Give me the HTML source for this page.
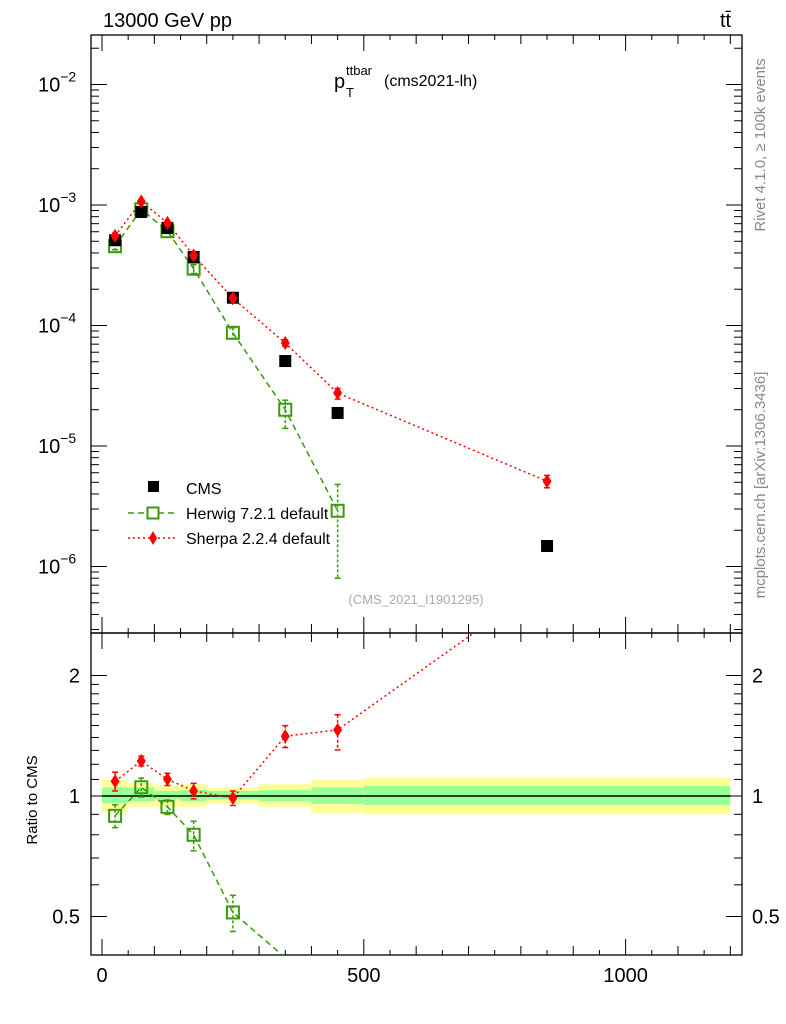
<!DOCTYPE html>
<html><head><meta charset="utf-8"><style>html,body{margin:0;background:#fff;overflow:hidden;width:786px;height:1024px}svg{font-family:"Liberation Sans",sans-serif;display:block}</style></head>
<body>
<svg id="c" width="786" height="1024" xmlns="http://www.w3.org/2000/svg">
<defs>
<clipPath id="cm"><rect x="91" y="35" width="651" height="598"/></clipPath>
<clipPath id="cr"><rect x="91" y="633" width="651" height="322"/></clipPath>
</defs>
<text x="103" y="27" font-size="20">13000 GeV pp</text>
<text x="720" y="27" font-size="20">tt̄</text>
<g>
<text x="334" y="88" font-size="20">p</text>
<text x="346" y="75" font-size="13">ttbar</text>
<text x="346" y="97" font-size="13">T</text>
<text x="384" y="86" font-size="16">(cms2021-lh)</text>
</g>
<text transform="translate(765,145) rotate(-90)" text-anchor="middle" font-size="15" fill="#888">Rivet 4.1.0, ≥ 100k events</text>
<text transform="translate(765,485) rotate(-90)" text-anchor="middle" font-size="15" fill="#888">mcplots.cern.ch [arXiv:1306.3436]</text>
<text x="416" y="604" text-anchor="middle" font-size="13" fill="#aaa">(CMS_2021_I1901295)</text>
<text transform="translate(37,800) rotate(-90)" text-anchor="middle" font-size="15">Ratio to CMS</text>
<g id="bands" clip-path="url(#cr)"></g>
<g id="axes"></g>
<g id="marks"></g>
<g>
<rect x="148" y="481" width="11" height="11" fill="#000"/>
<text x="186" y="494" font-size="16">CMS</text>
<line x1="128" y1="513" x2="178" y2="513" stroke="#3a9a0a" stroke-width="1.5" stroke-dasharray="6,4"/>
<rect x="147.5" y="507.5" width="11" height="11" fill="#fff" stroke="#3a9a0a" stroke-width="2"/>
<text x="186" y="519" font-size="16">Herwig 7.2.1 default</text>
<line x1="128" y1="538" x2="178" y2="538" stroke="#f00" stroke-width="1.5" stroke-dasharray="2,3"/>
<path d="M153,531 L157,538 L153,545 L149,538Z" fill="#f00"/>
<text x="186" y="544" font-size="16">Sherpa 2.2.4 default</text>
</g>
</svg>
<script>
const xs=[25,75,125,175,250,350,450,850];
const binLo=[0,50,100,150,200,300,400,500];
const binHi=[50,100,150,200,300,400,500,1200];
const cmsVals=[5.1e-4,8.75e-4,6.45e-4,3.7e-4,1.7e-4,5.07e-5,1.88e-5,1.48e-6];
const herwigVals=[4.55e-4,9.2e-4,6.06e-4,2.96e-4,8.7e-5,2.0e-5,2.9e-6];
const herwigUp=[4.85e-4,9.7e-4,6.3e-4,3.2e-4,9.6e-5,2.4e-5,4.8e-6];
const herwigDn=[4.25e-4,8.7e-4,5.8e-4,2.7e-4,7.8e-5,1.4e-5,8e-7];
const sherpaVals=[5.55e-4,1.07e-3,7.1e-4,3.81e-4,1.68e-4,7.15e-5,2.75e-5,5.1e-6];
const sherpaUp=[5.85e-4,1.1e-3,7.35e-4,3.98e-4,1.75e-4,7.6e-5,3.0e-5,5.7e-6];
const sherpaDn=[5.25e-4,1.04e-3,6.85e-4,3.64e-4,1.61e-4,6.7e-5,2.45e-5,4.5e-6];
const yellowUp=[1.097,1.08,1.06,1.07,1.05,1.07,1.10,1.11];
const yellowDn=[0.91,0.94,0.94,0.94,0.955,0.94,0.905,0.9];
const greenUp=[1.05,1.05,1.03,1.035,1.03,1.035,1.05,1.06];
const greenDn=[0.96,0.97,0.98,0.97,0.98,0.97,0.955,0.95];

const NS="http://www.w3.org/2000/svg";
const X=v=>102+v*0.5236;
const Y=v=>84.5-(Math.log10(v)+2)*120.5;
const R=v=>796-Math.log2(v)*120.5;
const inR=v=>v>0.405&&v<2.5;
function mk(p,tag,at){const e=document.createElementNS(NS,tag);for(const k in at)e.setAttribute(k,at[k]);p.appendChild(e);return e;}
const bands=document.getElementById('bands'),axes=document.getElementById('axes'),marks=document.getElementById('marks');
for(let i=0;i<binLo.length;i++){
 const y=mk(bands,'rect',{x:X(binLo[i]),y:R(yellowUp[i]),width:X(binHi[i])-X(binLo[i]),height:R(yellowDn[i])-R(yellowUp[i]),fill:'#ffff99'});
 
 
 const g=mk(bands,'rect',{x:X(binLo[i]),y:R(greenUp[i]),width:X(binHi[i])-X(binLo[i]),height:R(greenDn[i])-R(greenUp[i]),fill:'#99ff99'});
 
 
}
const ref=mk(bands,'line',{x1:X(0),x2:X(1200),y1:R(1),y2:R(1),stroke:'#000','stroke-width':1.5});


const f1=mk(axes,'rect',{x:91,y:35,width:651,height:598,fill:'none',stroke:'#000','stroke-width':1.3});


const f2=mk(axes,'rect',{x:91,y:633,width:651,height:322,fill:'none',stroke:'#000','stroke-width':1.3});


for(let d=-7;d<=-2;d++){for(let m=1;m<10;m++){const v=m*Math.pow(10,d);const y=Y(v);if(y<35||y>633)continue;const L=m==1?16:8;
 mk(axes,'line',{x1:91,x2:91+L,y1:y,y2:y,stroke:'#000'});mk(axes,'line',{x1:742-L,x2:742,y1:y,y2:y,stroke:'#000'});
 if(m==1){const t=mk(axes,'text',{x:38,y:y+7,'font-size':20});t.innerHTML='10<tspan font-size="14" dy="-10">\u2212'+(-d)+'</tspan>';
 
 }}}
const rt=[0.5,0.6,0.7,0.8,0.9,1,1.1,1.2,1.3,1.4,1.5,1.6,1.7,1.8,1.9,2];
rt.forEach(v=>{const y=R(v);if(y<633||y>955)return;const maj=(v==0.5||v==1||v==2);const L=maj?16:8;
 mk(axes,'line',{x1:91,x2:91+L,y1:y,y2:y,stroke:'#000'});mk(axes,'line',{x1:742-L,x2:742,y1:y,y2:y,stroke:'#000'});
 if(maj){const a=mk(axes,'text',{x:80,y:y+7,'font-size':20,'text-anchor':'end'});a.textContent=v;
 
 
 const b=mk(axes,'text',{x:752,y:y+7,'font-size':20});b.textContent=v;
 
 }});
for(let v=0;v<=1200;v+=50){const x=X(v);const L=v%500==0?16:(v%100==0?9:5);
 [[35,1],[633,-1],[633,1],[955,-1]].forEach(([y0,s])=>mk(axes,'line',{x1:x,x2:x,y1:y0,y2:y0+s*L,stroke:'#000'}));
 if(v%500==0){const t=mk(axes,'text',{x:x,y:982,'font-size':20,'text-anchor':'middle'});t.textContent=v;
 
 }}
const gm=mk(marks,'g',{'clip-path':'url(#cm)'}),gr=mk(marks,'g',{'clip-path':'url(#cr)'});
function line(p,pts,col,dash,name){const l=mk(p,'polyline',{points:pts.map(q=>q.join(',')).join(' '),fill:'none',stroke:col,'stroke-width':1.5,'stroke-dasharray':dash});
 
 }
line(gm,herwigVals.map((v,i)=>[X(xs[i]),Y(v)]),'#3a9a0a','6,4','herwig-line');
line(gm,sherpaVals.map((v,i)=>[X(xs[i]),Y(v)]),'#f00','2,3','sherpa-line');
line(gr,herwigVals.map((v,i)=>[X(xs[i]),R(v/cmsVals[i])]),'#3a9a0a','6,4','herwig-ratio-line');
line(gr,sherpaVals.map((v,i)=>[X(xs[i]),R(v/cmsVals[i])]),'#f00','2,3','sherpa-ratio-line');
function sq(p,x,y,fill,stroke,name){const r=mk(p,'rect',{x:x-6,y:y-6,width:12,height:12,fill:fill,stroke:stroke,'stroke-width':stroke=='none'?0:2});
 
 }
function dia(p,x,y,name){const d=mk(p,'path',{d:`M${x},${y-7}L${x+4.5},${y}L${x},${y+7}L${x-4.5},${y}Z`,fill:'#f00'});
 
 }
function err(p,x,y1,y2,col){mk(p,'line',{x1:x,x2:x,y1:y1,y2:y2,stroke:col,'stroke-width':1.5,'stroke-dasharray':'3,2'});mk(p,'line',{x1:x-3,x2:x+3,y1:y1,y2:y1,stroke:col,'stroke-width':1.5});mk(p,'line',{x1:x-3,x2:x+3,y1:y2,y2:y2,stroke:col,'stroke-width':1.5});}
herwigVals.forEach((v,i)=>{const x=X(xs[i]);const r=v/cmsVals[i];err(gm,x,Y(herwigUp[i]),Y(herwigDn[i]),'#3a9a0a');
 sq(gm,x,Y(v),'none','#3a9a0a','herwig-point');
 if(inR(r)){err(gr,x,R(herwigUp[i]/cmsVals[i]),R(herwigDn[i]/cmsVals[i]),'#3a9a0a');sq(gr,x,R(r),'none','#3a9a0a','herwig-ratio-point');}});
cmsVals.forEach((v,i)=>sq(gm,X(xs[i]),Y(v),'#000','none','cms-point'));
sherpaVals.forEach((v,i)=>{const x=X(xs[i]);const r=v/cmsVals[i];err(gm,x,Y(sherpaUp[i]),Y(sherpaDn[i]),'#f00');
 dia(gm,x,Y(v),'sherpa-point');
 if(inR(r)){err(gr,x,R(sherpaUp[i]/cmsVals[i]),R(sherpaDn[i]/cmsVals[i]),'#f00');dia(gr,x,R(r),'sherpa-ratio-point');}});
</script>
</body></html>
